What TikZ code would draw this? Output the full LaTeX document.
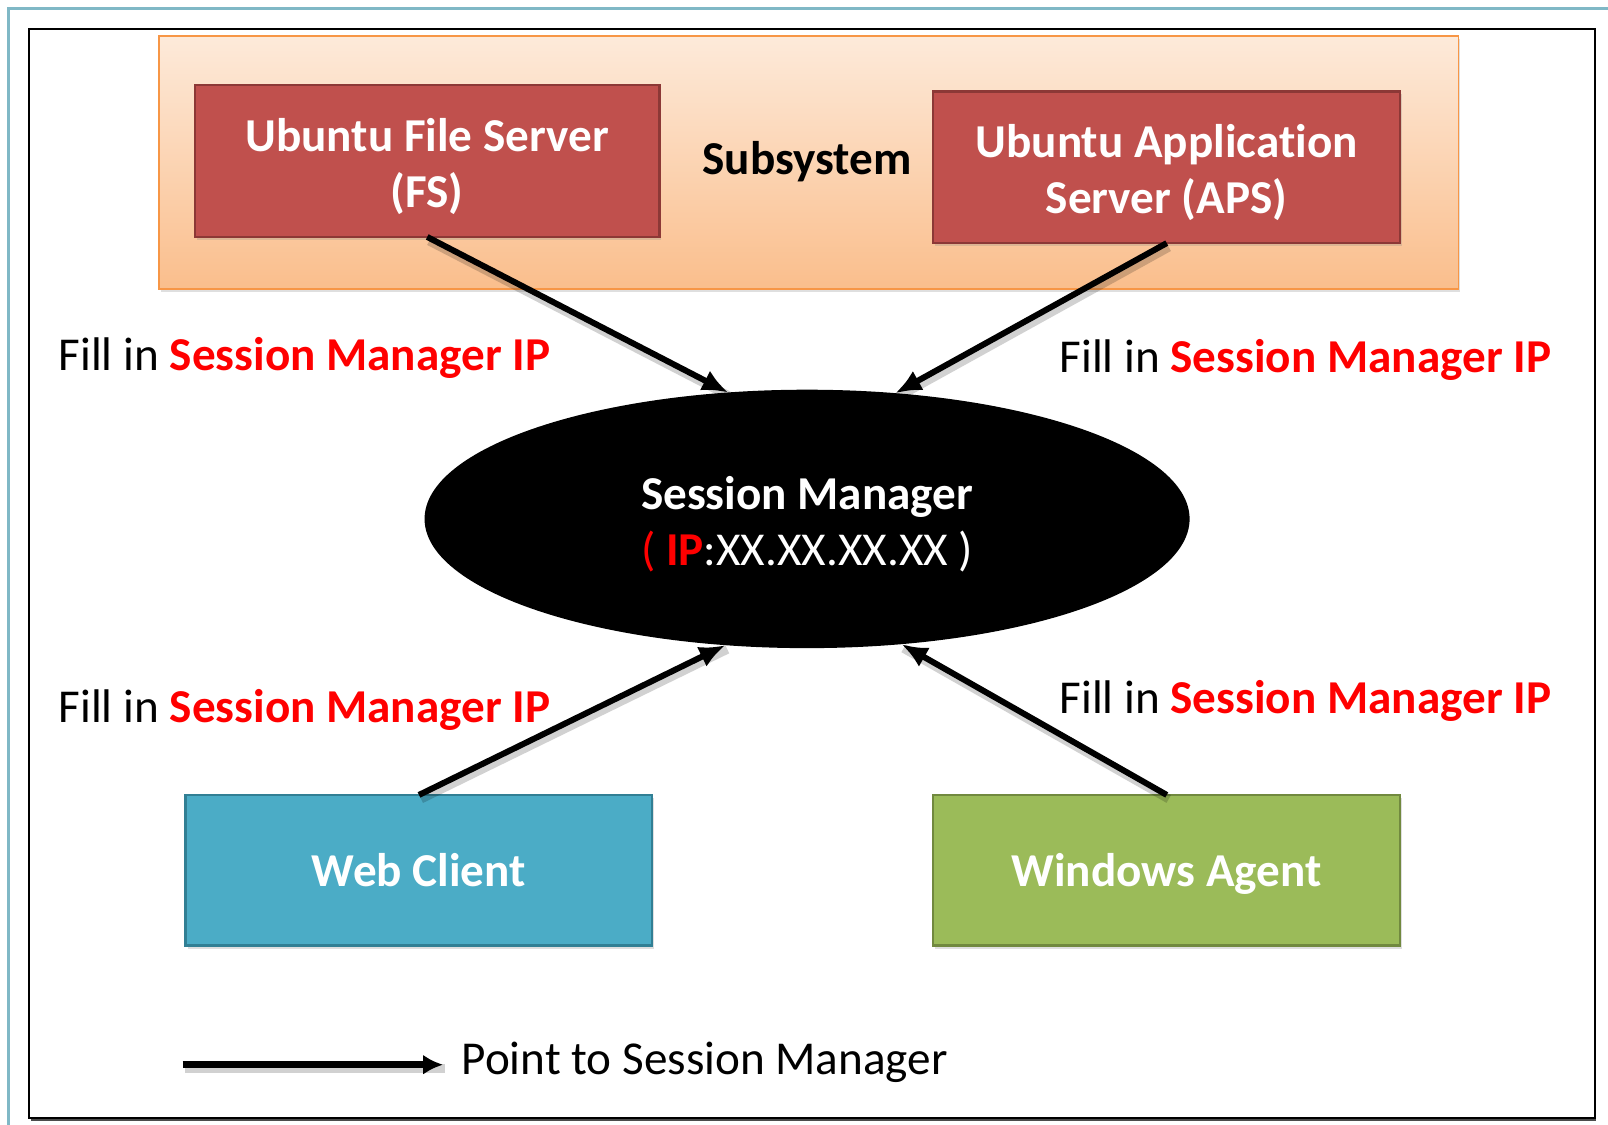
\documentclass[tikz,border=0pt]{standalone}
\usepackage{fontspec}
\setmainfont{Carlito}[Ligatures=NoCommon]
\usetikzlibrary{arrows.meta,shadows,shapes.geometric}
\definecolor{framet}{RGB}{128,184,198}
\definecolor{subtop}{RGB}{253,234,218}
\definecolor{subbot}{RGB}{250,190,140}
\definecolor{subline}{RGB}{247,150,70}
\definecolor{fsred}{RGB}{192,80,77}
\definecolor{fsredd}{RGB}{140,56,54}
\definecolor{webblue}{RGB}{75,172,198}
\definecolor{webblued}{RGB}{49,127,148}
\definecolor{wingreen}{RGB}{155,187,89}
\definecolor{wingreend}{RGB}{113,137,63}
\definecolor{hired}{RGB}{255,0,0}
\newcommand{\lowstrut}{\rule{0pt}{43pt}}
\begin{document}
\begin{tikzpicture}[x=1pt,y=-1pt,scale=1.0255,every node/.append style={transform shape},
  bigfont/.style={font=\fontsize{46}{55}\selectfont},
  srvbox/.style={rectangle, line width=2.5pt, inner sep=0pt, outer sep=0pt, align=center,
     text=white, font=\fontsize{46}{55}\selectfont\bfseries,
     drop shadow={opacity=0.25, shadow xshift=2pt, shadow yshift=-3pt}},
  onebox/.style={srvbox, text height=31pt, text depth=0pt},
  lbl/.style={anchor=base west, inner sep=0pt, bigfont},
  shad/.style={preaction={draw=black, opacity=0.18, line width=9pt, -{}, transform canvas={shift={(2pt,-4pt)}}}},
  conn/.style={shad, line width=6pt, -{Latex[length=26pt,width=22pt]}},
]
\useasboundingbox (0,0) rectangle (1568,1097);
\fill[white] (0,0) rectangle (1568,1097);
% outer teal frame
\draw[framet, line width=3pt] (8,1097) -- (8,8) -- (1568,8);
% black frame
\draw[black, line width=2.2pt, fill=white] (28,28) rectangle (1555,1090);
\draw[black!70, line width=2pt] (30,1092.5) -- (1556,1092.5);
% subsystem box
\node[rectangle, draw=subline, line width=1.5pt, top color=subtop, bottom color=subbot,
      minimum width=1267, minimum height=247, inner sep=0pt, outer sep=0pt,
      drop shadow={opacity=0.25, shadow xshift=2pt, shadow yshift=-3pt}]
      (sub) at (788.5,158.5) {};
\node[font=\fontsize{46}{55}\selectfont\bfseries, inner sep=0pt] (sublbl) at (787,158) {Subsystem};
% servers
\node[srvbox, fill=fsred, draw=fsredd, minimum width=453, minimum height=148]
      (fs) at (416.5,157) {\lowstrut Ubuntu File Server\\(FS)};
\node[srvbox, fill=fsred, draw=fsredd, minimum width=455, minimum height=148]
      (aps) at (1137.5,163) {\lowstrut Ubuntu Application\\Server (APS)};
% session manager
\node[ellipse, fill=black, draw=none, inner sep=0pt, outer sep=0pt,
      minimum width=746, minimum height=252, align=center, text=white,
      font=\fontsize{46}{55}\selectfont]
      (sm) at (787,506) {\lowstrut\textbf{Session Manager}\\\textcolor{hired}{( \textbf{IP}}:XX.XX.XX.XX )};
% clients
\node[onebox, fill=webblue, draw=webblued, minimum width=455, minimum height=147]
      (web) at (408.5,848.5) {Web Client};
\node[onebox, fill=wingreen, draw=wingreend, minimum width=455, minimum height=147]
      (win) at (1137.5,848.5) {Windows Agent};
% connectors
\draw[conn] (fs.south) -- (sm.122.6);
\draw[conn] (aps.south) -- (sm.55.8);
\draw[conn] (web.north) -- (sm.237.6);
\draw[conn] (win.north) -- (sm.307.9);
% labels
\node[lbl] (l1) at (57,361) {Fill in \textcolor{hired}{\textbf{Session Manager IP}}};
\node[lbl] (l2) at (1033,363) {Fill in \textcolor{hired}{\textbf{Session Manager IP}}};
\node[lbl] (l3) at (57,705) {Fill in \textcolor{hired}{\textbf{Session Manager IP}}};
\node[lbl] (l4) at (1033,696) {Fill in \textcolor{hired}{\textbf{Session Manager IP}}};
% legend
\coordinate (lgA) at (178,1038);
\coordinate (lgB) at (432,1038);
\draw[shad, line width=7pt, -{Latex[length=20pt,width=20pt]}] (lgA) -- (lgB);
\node[lbl] (lgt) at (450,1048) {Point to Session Manager};
\end{tikzpicture}
\end{document}
